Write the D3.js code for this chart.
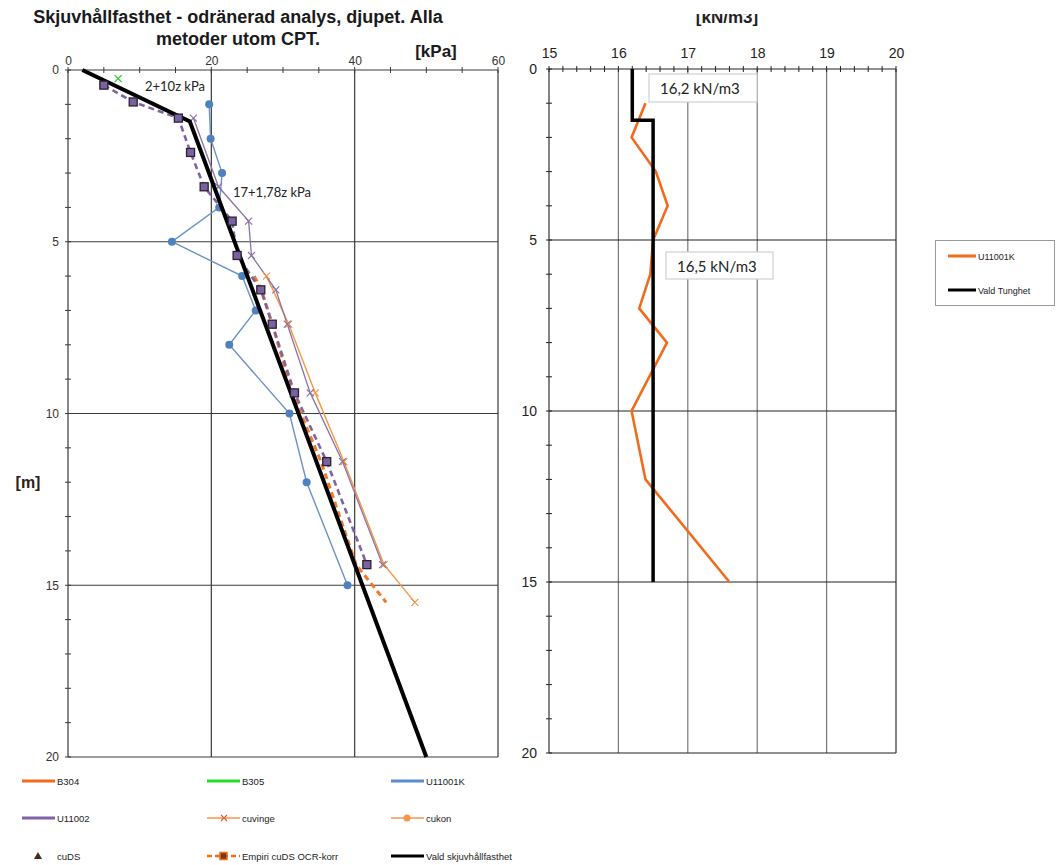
<!DOCTYPE html>
<html>
<head>
<meta charset="utf-8">
<script src="https://cdn.jsdelivr.net/npm/d3@7"></script>
<style>
  body { margin: 0; background: #fff; }
  svg { display: block; font-family: "Liberation Sans", Arial, sans-serif; }
</style>
</head>
<body>
<div id="chart"></div>
<script>
// ---- left chart: skjuvhållfasthet [kPa] mot djup [m]
var kpaTicks = [0, 20, 40, 60];
var depthTicks = [0, 5, 10, 15, 20];

var valdDepth = [0, 1.5, 20];
var valdKpa = [2, 17, 50];

var b305Depth = [0.25];
var b305Kpa = [7];

var u11001kDepth = [1, 2, 3, 4, 5, 6, 7, 8, 10, 12, 15];
var u11001kKpa = [19.7, 19.9, 21.5, 21.1, 14.5, 24.3, 26.2, 22.5, 30.9, 33.3, 39.0];

var u11002Depth = [1.4, 3.4, 4.4, 5.4, 6.4, 7.4, 9.4, 11.4, 14.4];
var u11002Kpa = [17.5, 21.0, 25.2, 25.6, 29.0, 30.6, 33.8, 38.3, 43.9];

var cuvingeDepth = [6.0, 7.4, 9.4, 11.4, 14.4, 15.5];
var cuvingeKpa = [27.7, 30.8, 34.5, 38.5, 44.1, 48.4];

var empiriU2Depth = [0.44, 0.93, 1.4, 2.4, 3.4, 4.4, 5.4, 6.4, 7.4, 9.4, 11.4, 14.4];
var empiriU2Kpa = [5.0, 9.1, 15.4, 17.1, 19.0, 22.9, 23.6, 26.9, 28.5, 31.6, 36.1, 41.7];

var empiriDepth = [6.0, 6.4, 7.4, 9.4, 11.4, 14.4, 15.5];
var empiriKpa = [26.0, 27.0, 28.5, 31.3, 35.3, 40.2, 44.4];

// ---- right chart: tunghet [kN/m3]
var rhoTicks = [15, 16, 17, 18, 19, 20];
var tungDepth = [1, 2, 3, 4, 5, 6, 7, 8, 10, 12, 15];
var tungVal = [16.39, 16.19, 16.54, 16.71, 16.5, 16.46, 16.30, 16.70, 16.19, 16.39, 17.6];
var valdTungDepth = [0, 1.5, 1.5, 15];
var valdTungVal = [16.2, 16.2, 16.5, 16.5];

var legendLeft = [
  ["B304", "line", "#f26b1d"], ["B305", "line", "#22e022"], ["U11001K", "line", "#5b8dd0"],
  ["U11002", "line", "#7f63a8"], ["cuvinge", "cross", "#f79646"], ["cukon", "dot", "#f79646"],
  ["cuDS", "tri", "#4a2a1a"], ["Empiri cuDS OCR-korr", "dashsq", "#f07020"], ["Vald skjuvhållfasthet", "line", "#000"]
];
var legendRight = [["U11001K", "#f26b1d"], ["Vald Tunghet", "#000"]];

var w = 1056, h = 865;
var svg = d3.select("#chart").append("svg").attr("width", w).attr("height", h);

function zip(a, b) { return a.map(function (d, i) { return [d, b[i]]; }); }

var xL = d3.scaleLinear().domain([0, 60]).range([68, 498]);
var yL = d3.scaleLinear().domain([0, 20]).range([70, 757]);
var xR = d3.scaleLinear().domain([15, 20]).range([549, 896]);
var yR = d3.scaleLinear().domain([0, 20]).range([69, 753]);

// title
svg.append("text").attr("x", 238).attr("y", 23).attr("text-anchor", "middle")
  .attr("font-size", "18px").attr("font-weight", "bold").attr("fill", "#1a1a1a")
  .text("Skjuvhållfasthet - odränerad analys, djupet. Alla");
svg.append("text").attr("x", 238).attr("y", 45).attr("text-anchor", "middle")
  .attr("font-size", "18px").attr("font-weight", "bold").attr("fill", "#1a1a1a")
  .text("metoder utom CPT.");
svg.append("text").attr("x", 436).attr("y", 57).attr("text-anchor", "middle")
  .attr("font-size", "17px").attr("font-weight", "bold").attr("fill", "#1a1a1a").text("[kPa]");
svg.append("text").attr("x", 28).attr("y", 488).attr("text-anchor", "middle")
  .attr("font-size", "16px").attr("font-weight", "bold").attr("fill", "#2a2018").text("[m]");

// ---------- left frame
var gl = svg.append("g");
gl.selectAll(".vgrid").data(kpaTicks).enter().append("line")
  .attr("x1", xL).attr("x2", xL).attr("y1", yL(0)).attr("y2", yL(20))
  .attr("stroke", "#3a3a3a").attr("stroke-width", 1.2);
gl.selectAll(".hgrid").data(depthTicks).enter().append("line")
  .attr("x1", xL(0)).attr("x2", xL(60)).attr("y1", yL).attr("y2", yL)
  .attr("stroke", "#3a3a3a").attr("stroke-width", 1.2);
gl.selectAll(".mtx").data(d3.range(0, 61, 5)).enter().append("line")
  .attr("x1", xL).attr("x2", xL).attr("y1", yL(0) - 3).attr("y2", yL(0) + 3)
  .attr("stroke", "#3a3a3a");
gl.selectAll(".mty").data(d3.range(0, 21, 1)).enter().append("line")
  .attr("x1", xL(0) - 3).attr("x2", xL(0) + 3).attr("y1", yL).attr("y2", yL)
  .attr("stroke", "#3a3a3a");

gl.append("g").attr("transform", "translate(0," + yL(0) + ")")
  .call(d3.axisTop(xL).tickValues(kpaTicks).tickSize(0).tickPadding(5))
  .call(function (g) { g.select(".domain").remove(); })
  .selectAll("text").attr("font-size", "12px").attr("fill", "#333").attr("font-family", "Liberation Sans, Arial");
gl.append("g").attr("transform", "translate(" + xL(0) + ",0)")
  .call(d3.axisLeft(yL).tickValues(depthTicks).tickSize(0).tickPadding(9))
  .call(function (g) { g.select(".domain").remove(); })
  .selectAll("text").attr("font-size", "12px").attr("fill", "#333").attr("font-family", "Liberation Sans, Arial");

// ---------- left series
var line = d3.line().x(function (d) { return xL(d[1]); }).y(function (d) { return yL(d[0]); });

gl.append("path").datum(zip(u11001kDepth, u11001kKpa)).attr("d", line)
  .attr("fill", "none").attr("stroke", "#6b91c6").attr("stroke-width", 1.4);
gl.selectAll(".u1k").data(zip(u11001kDepth, u11001kKpa)).enter().append("circle")
  .attr("cx", function (d) { return xL(d[1]); }).attr("cy", function (d) { return yL(d[0]); })
  .attr("r", 4).attr("fill", "#4f81bd");

gl.append("path").datum(zip(cuvingeDepth, cuvingeKpa)).attr("d", line)
  .attr("fill", "none").attr("stroke", "#f79646").attr("stroke-width", 1.4);

gl.append("path").datum(zip(u11002Depth, u11002Kpa)).attr("d", line)
  .attr("fill", "none").attr("stroke", "#8a74a4").attr("stroke-width", 1.3);

function cross(sel, data, col) {
  sel.selectAll(null).data(data).enter().append("path")
    .attr("d", function (d) {
      var x = xL(d[1]), y = yL(d[0]);
      return "M" + (x - 3.5) + "," + (y - 3.5) + "L" + (x + 3.5) + "," + (y + 3.5) +
        "M" + (x - 3.5) + "," + (y + 3.5) + "L" + (x + 3.5) + "," + (y - 3.5);
    })
    .attr("stroke", col).attr("stroke-width", 1.2);
}
cross(gl, zip(cuvingeDepth, cuvingeKpa), "#f79646");
cross(gl, zip(u11002Depth, u11002Kpa), "#8a74a4");
cross(gl, zip(b305Depth, b305Kpa), "#22cc22");

gl.append("path").datum(zip(empiriDepth, empiriKpa)).attr("d", line)
  .attr("fill", "none").attr("stroke", "#f07a2a").attr("stroke-width", 3)
  .attr("stroke-dasharray", "6,4");
gl.append("path").datum(zip(empiriU2Depth, empiriU2Kpa)).attr("d", line)
  .attr("fill", "none").attr("stroke", "#8064a2").attr("stroke-width", 2.6)
  .attr("stroke-dasharray", "6,4");

gl.append("path").datum(zip(valdDepth, valdKpa)).attr("d", line)
  .attr("fill", "none").attr("stroke", "#000").attr("stroke-width", 4);

gl.selectAll(".sq").data(zip(empiriU2Depth, empiriU2Kpa)).enter().append("rect")
  .attr("x", function (d) { return xL(d[1]) - 4; }).attr("y", function (d) { return yL(d[0]) - 4; })
  .attr("width", 8).attr("height", 8)
  .attr("fill", "#7a62a0").attr("stroke", "#2a2030").attr("stroke-width", 1.3);

gl.append("text").attr("x", 145).attr("y", 91).attr("font-family", "Lato")
  .attr("font-size", "13px").attr("fill", "#222").text("2+10z kPa");
gl.append("text").attr("x", 233).attr("y", 197).attr("font-family", "Lato")
  .attr("font-size", "13px").attr("fill", "#222").text("17+1,78z kPa");

// ---------- left legend (bottom)
var lg = svg.append("g").attr("font-size", "9.5px").attr("fill", "#222");
var colX = [22, 207, 391], rowY = [781, 818, 856];
legendLeft.forEach(function (d, i) {
  var x = colX[i % 3], y = rowY[Math.floor(i / 3)];
  if (d[1] === "tri") {
    lg.append("path").attr("d", "M" + (x + 16) + "," + (y - 4) + "L" + (x + 20) + "," + (y + 3) + "L" + (x + 12) + "," + (y + 3) + "Z")
      .attr("fill", d[2]);
  } else {
    lg.append("line").attr("x1", x).attr("x2", x + 33).attr("y1", y).attr("y2", y)
      .attr("stroke", d[2])
      .attr("stroke-width", d[1] === "line" ? 3 : d[1] === "dashsq" ? 2.5 : 1.3)
      .attr("stroke-dasharray", d[1] === "dashsq" ? "5,3" : null);
  }
  if (d[1] === "cross") {
    lg.append("path").attr("d", "M" + (x + 14) + "," + (y - 3) + "l6,6M" + (x + 14) + "," + (y + 3) + "l6,-6")
      .attr("stroke", "#e06030").attr("stroke-width", 1.2);
  } else if (d[1] === "dot") {
    lg.append("circle").attr("cx", x + 16).attr("cy", y).attr("r", 3.5).attr("fill", d[2]);
  } else if (d[1] === "dashsq") {
    lg.append("rect").attr("x", x + 13).attr("y", y - 3.5).attr("width", 7).attr("height", 7)
      .attr("fill", "#7a3a20").attr("stroke", d[2]).attr("stroke-width", 1.5);
  }
  lg.append("text").attr("x", x + 35).attr("y", y + 3.5).text(d[0]);
});

// ---------- right frame
var gr = svg.append("g");
gr.selectAll(".vgrid").data(rhoTicks).enter().append("line")
  .attr("x1", xR).attr("x2", xR).attr("y1", yR(0)).attr("y2", yR(20))
  .attr("stroke", function (d) { return d === 15 || d === 20 ? "#333" : "#777"; })
  .attr("stroke-width", 1.2);
gr.selectAll(".hgrid").data(depthTicks).enter().append("line")
  .attr("x1", xR(15)).attr("x2", xR(20)).attr("y1", yR).attr("y2", yR)
  .attr("stroke", "#222").attr("stroke-width", 1.2);
gr.selectAll(".mtx").data(d3.range(0, 26, 1).map(function (i) { return 15 + i * 0.2; })).enter().append("line")
  .attr("x1", xR).attr("x2", xR).attr("y1", yR(0) - 3).attr("y2", yR(0) + 3)
  .attr("stroke", "#222");
gr.selectAll(".mty").data(d3.range(0, 21, 1)).enter().append("line")
  .attr("x1", xR(15) - 3).attr("x2", xR(15) + 3).attr("y1", yR).attr("y2", yR)
  .attr("stroke", "#222");

gr.append("g").attr("transform", "translate(0," + yR(0) + ")")
  .call(d3.axisTop(xR).tickValues(rhoTicks).tickFormat(d3.format("d")).tickSize(0).tickPadding(11))
  .call(function (g) { g.select(".domain").remove(); })
  .selectAll("text").attr("font-size", "14px").attr("fill", "#222").attr("font-family", "Liberation Sans, Arial");
gr.append("g").attr("transform", "translate(" + xR(15) + ",0)")
  .call(d3.axisLeft(yR).tickValues(depthTicks).tickFormat(d3.format("d")).tickSize(0).tickPadding(12))
  .call(function (g) { g.select(".domain").remove(); })
  .selectAll("text").attr("font-size", "14px").attr("fill", "#222").attr("font-family", "Liberation Sans, Arial");

// unit label cut at the top like the original
svg.append("clipPath").attr("id", "cut").append("rect").attr("x", 650).attr("y", 14).attr("width", 160).attr("height", 20);
svg.append("text").attr("x", 727).attr("y", 23).attr("text-anchor", "middle").attr("clip-path", "url(#cut)")
  .attr("font-size", "17px").attr("font-weight", "bold").attr("fill", "#222").text("[kN/m3]");

var lineR = d3.line().x(function (d) { return xR(d[1]); }).y(function (d) { return yR(d[0]); });
gr.append("path").datum(zip(tungDepth, tungVal)).attr("d", lineR)
  .attr("fill", "none").attr("stroke", "#f26b1d").attr("stroke-width", 2.6);
gr.append("path").datum(zip(valdTungDepth, valdTungVal)).attr("d", lineR)
  .attr("fill", "none").attr("stroke", "#000").attr("stroke-width", 3.5);

// value boxes
[["16,2 kN/m3", 649, 74, 108, 28], ["16,5 kN/m3", 666, 252, 107, 27]].forEach(function (b) {
  gr.append("rect").attr("x", b[1]).attr("y", b[2]).attr("width", b[3]).attr("height", b[4])
    .attr("fill", "#fff").attr("stroke", "#d0d0d0").attr("stroke-width", 1.2);
  gr.append("text").attr("x", b[1] + 11).attr("y", b[2] + 20).attr("font-family", "Lato")
    .attr("font-size", "15px").attr("fill", "#222").text(b[0]);
});

// right legend
var rl = svg.append("g");
rl.append("rect").attr("x", 935.5).attr("y", 240.5).attr("width", 119).attr("height", 65)
  .attr("fill", "#fff").attr("stroke", "#999");
legendRight.forEach(function (d, i) {
  var y = 256 + i * 34;
  rl.append("line").attr("x1", 948).attr("x2", 976).attr("y1", y).attr("y2", y)
    .attr("stroke", d[1]).attr("stroke-width", 3);
  rl.append("text").attr("x", 978).attr("y", y + 3.5).attr("font-size", "9px").attr("fill", "#222").text(d[0]);
});
</script>
</body>
</html>
